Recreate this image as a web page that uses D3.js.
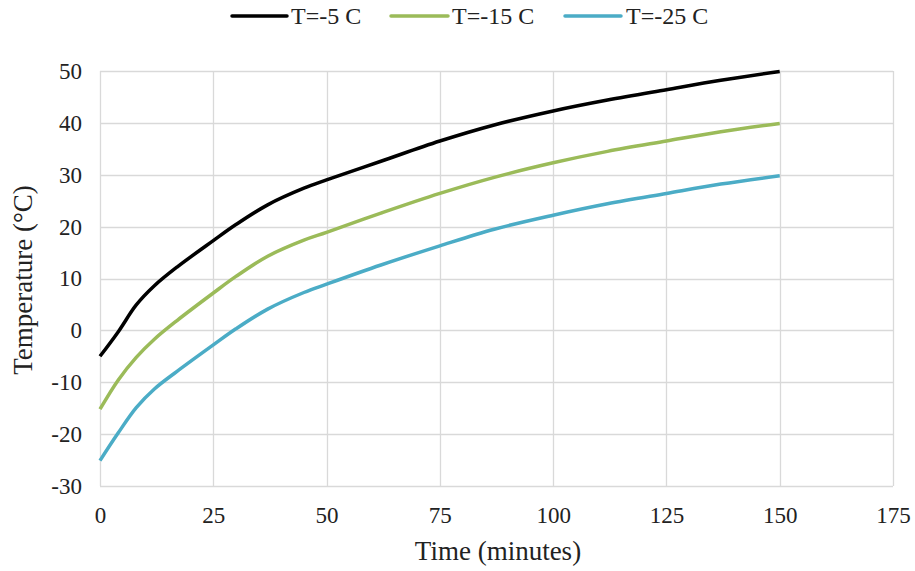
<!DOCTYPE html>
<html>
<head>
<meta charset="utf-8">
<script src="https://cdn.jsdelivr.net/npm/d3@7"></script>
<style>
  html, body { margin: 0; padding: 0; background: #fff; }
  svg { display: block; }
  svg text { font-family: "Liberation Serif", "Times New Roman", serif; fill: #222; }
</style>
</head>
<body>
<svg id="chart" width="915" height="571"></svg>
<script>
// Elapsed time in minutes at each sample
const times = [0, 4, 8, 12, 17, 25, 30, 37, 45, 50, 62, 75, 87, 100, 112, 125, 137, 150];

// Temperature (°C) for each starting temperature
const tempMinus5  = [-5.0, -0.3, 4.9, 8.6, 12.2, 17.3, 20.4, 24.2, 27.4, 29.0, 32.6, 36.5, 39.6, 42.3, 44.4, 46.4, 48.2, 49.9];
const tempMinus15 = [-15.2, -9.6, -5.2, -1.7, 1.9, 7.2, 10.4, 14.3, 17.4, 18.9, 22.6, 26.4, 29.5, 32.3, 34.5, 36.5, 38.3, 39.9];
const tempMinus25 = [-25.1, -19.8, -14.9, -11.3, -7.9, -2.8, 0.3, 4.1, 7.3, 8.9, 12.6, 16.3, 19.5, 22.2, 24.4, 26.4, 28.2, 29.8];

const seriesNames = ["T=-5 C", "T=-15 C", "T=-25 C"];
const seriesColors = ["#000000", "#9BBB59", "#4BACC6"];

const xTicks = [0, 25, 50, 75, 100, 125, 150, 175];
const yTicks = [-30, -20, -10, 0, 10, 20, 30, 40, 50];

const series = [tempMinus5, tempMinus15, tempMinus25].map((vals, i) => ({
  name: seriesNames[i],
  color: seriesColors[i],
  points: times.map((t, j) => ({ t, v: vals[j] }))
}));

const svg = d3.select("#chart");
const plot = { left: 100, right: 893, top: 71, bottom: 486 };
const serif = '"Liberation Serif", "Times New Roman", serif';

const x = d3.scaleLinear().domain([0, 175]).range([plot.left, plot.right]);
const y = d3.scaleLinear().domain([-30, 50]).range([plot.bottom, plot.top]);

const gridColor = "#d9d9d9";

// Gridlines
svg.append("g")
  .selectAll("line")
  .data(yTicks)
  .join("line")
  .attr("x1", plot.left).attr("x2", plot.right)
  .attr("y1", d => Math.round(y(d)) + 0.5).attr("y2", d => Math.round(y(d)) + 0.5)
  .attr("stroke", gridColor).attr("stroke-width", 1.3);

svg.append("g")
  .selectAll("line")
  .data(xTicks)
  .join("line")
  .attr("y1", plot.top).attr("y2", plot.bottom)
  .attr("x1", d => Math.round(x(d)) + 0.5).attr("x2", d => Math.round(x(d)) + 0.5)
  .attr("stroke", gridColor).attr("stroke-width", 1.3);

// Axes (labels only, no tick marks); plain hyphen for negatives
const fmt = d => String(d);

const xAxis = d3.axisBottom(x).tickValues(xTicks).tickSize(0).tickPadding(21).tickFormat(fmt);
const gx = svg.append("g").attr("transform", `translate(0,${plot.bottom})`).call(xAxis);
gx.select(".domain").remove();
gx.attr("font-family", null).attr("font-size", null);
gx.selectAll("text").style("font-family", serif).style("font-size", "23px").style("fill", "#222");

const yAxis = d3.axisLeft(y).tickValues(yTicks).tickSize(0).tickPadding(18).tickFormat(fmt);
const gy = svg.append("g").attr("transform", `translate(${plot.left},0)`).call(yAxis);
gy.select(".domain").remove();
gy.attr("font-family", null).attr("font-size", null);
gy.selectAll("text").style("font-family", serif).style("font-size", "23px").style("fill", "#222");

// Curves
const line = d3.line()
  .x(d => x(d.t))
  .y(d => y(d.v))
  .curve(d3.curveCatmullRom.alpha(0.5));

svg.append("g")
  .selectAll("path")
  .data(series)
  .join("path")
  .attr("d", d => line(d.points))
  .attr("fill", "none")
  .attr("stroke", d => d.color)
  .attr("stroke-width", 3.5)
  .attr("stroke-linejoin", "round");

// Axis titles
svg.append("text")
  .attr("x", 498).attr("y", 560)
  .attr("text-anchor", "middle")
  .style("font-size", "27px")
  .text("Time (minutes)");

svg.append("text")
  .attr("transform", "translate(32,280) rotate(-90)")
  .attr("text-anchor", "middle")
  .style("font-size", "27px")
  .text("Temperature (°C)");

// Legend
const legendItems = [
  { x0: 232, x1: 287, tx: 291 },
  { x0: 391, x1: 448, tx: 452 },
  { x0: 565, x1: 621, tx: 626 }
];
const legend = svg.append("g");
series.forEach((s, i) => {
  const it = legendItems[i];
  legend.append("line")
    .attr("x1", it.x0).attr("x2", it.x1)
    .attr("y1", 16).attr("y2", 16)
    .attr("stroke", s.color).attr("stroke-width", 3.5)
    .attr("stroke-linecap", "round");
  legend.append("text")
    .attr("x", it.tx).attr("y", 24)
    .style("font-size", "24px")
    .text(s.name);
});
</script>
</body>
</html>
